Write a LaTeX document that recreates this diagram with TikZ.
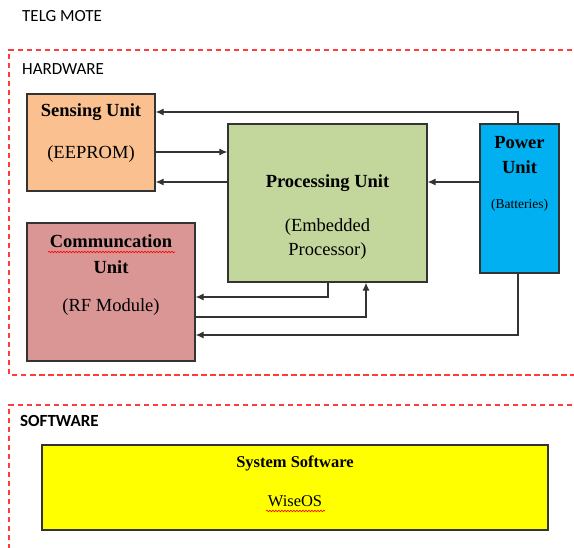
\documentclass[tikz,border=0pt]{standalone}
\usepackage{fontspec}
\setmainfont{Liberation Serif}
\newfontfamily\calibri{Carlito}
\usetikzlibrary{arrows.meta,decorations.pathmorphing}
\definecolor{sensfill}{HTML}{FAC090}
\definecolor{procfill}{HTML}{C3D69B}
\definecolor{powfill}{HTML}{00B0F0}
\definecolor{commfill}{HTML}{D99694}
\definecolor{sysfill}{HTML}{FFFF00}
\definecolor{dashred}{HTML}{FF3B3B}
\definecolor{linegray}{HTML}{333333}
\tikzset{
  unitbox/.style={draw=linegray, line width=1.3pt, inner sep=0pt},
  grpbox/.style={draw=dashred, line width=1.1pt, dash pattern=on 5.5pt off 3.5pt},
  conn/.style={draw=linegray, line width=1.1pt},
  arr/.style={conn, -{Latex[length=8pt,width=7pt]}},
  boldtxt/.style={font=\fontsize{18.5}{22}\selectfont\bfseries, inner sep=0pt},
  plaintxt/.style={font=\fontsize{18.5}{24}\selectfont, inner sep=0pt, align=center},
  smalltxt/.style={font=\fontsize{13.5}{16}\selectfont, inner sep=0pt},
  captxt/.style={font=\calibri\fontsize{17}{20}\selectfont, inner sep=0pt, anchor=west},
  squig/.style={draw=red, line width=0.6pt, decorate, decoration={snake, amplitude=0.8pt, segment length=3pt}}
}
\begin{document}
\begin{tikzpicture}[x=1pt,y=-1pt]
\useasboundingbox (0,0) rectangle (574,548);
\fill[white] (0,0) rectangle (574,548);
% group boxes
\draw[grpbox] (590,50) -- (9,50) -- (9,375) -- (590,375);
\draw[grpbox] (590,405) -- (9,405) -- (9,560);
\node[captxt] (telg) at (22,16) {TELG MOTE};
\node[captxt] (hw) at (22,69) {HARDWARE};
\node[captxt, font=\calibri\fontsize{17}{20}\selectfont\bfseries] (sw) at (20,421) {SOFTWARE};
% units
\node[unitbox, fill=sensfill, minimum width=128pt, minimum height=97pt] (sens) at (91,142.5) {};
\node[unitbox, fill=procfill, minimum width=199pt, minimum height=158pt] (proc) at (327.5,203) {};
\node[unitbox, fill=powfill, minimum width=79pt, minimum height=149pt] (pow) at (519.5,198.5) {};
\node[unitbox, fill=commfill, minimum width=168pt, minimum height=138pt] (comm) at (111,292) {};
\node[unitbox, fill=sysfill, minimum width=506pt, minimum height=85pt] (sys) at (295,487.5) {};
% texts
\node[boldtxt] (t1) at (91,112) {Sensing Unit};
\node[plaintxt] (t2) at (91,154) {(EEPROM)};
\node[boldtxt] (t3) at (327.5,183.5) {Processing Unit};
\node[plaintxt] (t4) at (327.5,239) {(Embedded\\Processor)};
\node[boldtxt, align=center, font=\fontsize{18.5}{25}\selectfont\bfseries] (t5) at (519.5,155) {Power\\Unit};
\node[smalltxt] (t6) at (519.5,205) {(Batteries)};
\node[boldtxt, align=center, font=\fontsize{18.5}{26}\selectfont\bfseries] (t7) at (111,254) {Communcation\\Unit};
\node[plaintxt] (t8) at (111,307) {(RF Module)};
\node[boldtxt, font=\fontsize{16.5}{20}\selectfont\bfseries] (t9) at (295,463.5) {System Software};
\node[plaintxt, font=\fontsize{16.5}{20}\selectfont] (t10) at (295,501.5) {WiseOS};
\draw[squig] (48,252) -- (175,252);
\draw[squig] (266,511) -- (325,511);
% connectors
\coordinate (c1) at (518,112);
\draw[arr] (pow.north -| c1) -- (c1) -- (sens.east |- c1);
\draw[arr] (sens.east |- 0,152) -- (proc.west |- 0,152);
\draw[arr] (proc.west |- 0,182) -- (sens.east |- 0,182);
\draw[arr] (pow.west |- 0,182) -- (proc.east |- 0,182);
\coordinate (c2) at (328,297);
\draw[arr] (proc.south -| c2) -- (c2) -- (comm.east |- c2);
\coordinate (c3) at (366,317);
\draw[arr] (comm.east |- c3) -- (c3) -- (proc.south -| c3);
\coordinate (c4) at (518,335);
\draw[arr] (pow.south -| c4) -- (c4) -- (comm.east |- c4);
\end{tikzpicture}
\end{document}
